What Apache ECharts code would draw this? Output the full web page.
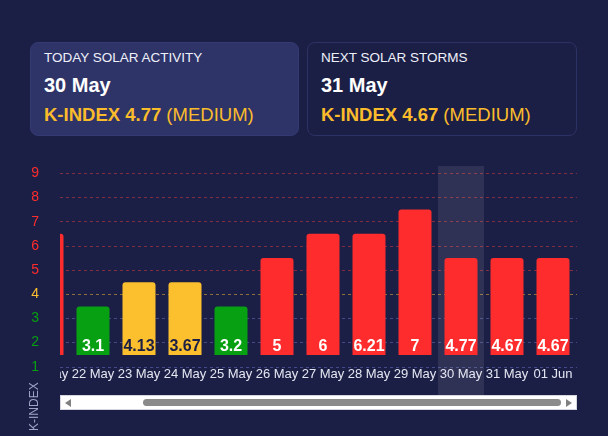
<!DOCTYPE html>
<html>
<head>
<meta charset="utf-8">
<script src="https://cdn.jsdelivr.net/npm/echarts@6/dist/echarts.min.js"></script>
<style>
  body { margin: 0; width: 608px; height: 436px; overflow: hidden; position: relative;
         background: #1c1f45; font-family: "Liberation Sans", Arial, sans-serif; }
  .card { position: absolute; top: 42px; height: 94px; border-radius: 8px; box-sizing: border-box; }
  #today { left: 30px; width: 269px; background: #2e3468; border: 1px solid #343a72; }
  #next { left: 307px; width: 270px; border: 1px solid #2c3264; }
  .card div { position: absolute; left: 13px; white-space: nowrap; line-height: 1; }
  .card .t { top: 7.5px; font-size: 13.5px; color: #eef0fa; }
  .card .d { top: 31.5px; font-size: 20px; font-weight: bold; color: #fff; }
  .card .k { top: 63px; font-size: 18.5px; color: #fbbc2c; }
  .card .k b { font-weight: bold; }
  #yaxis { position: absolute; left: 0; top: 150px; width: 608px; height: 286px; }
  #clip { position: absolute; left: 60px; top: 150px; width: 517px; height: 286px; overflow: hidden; }
  #main { position: absolute; left: -60px; top: 0; width: 608px; height: 286px; }
  /* fake horizontal scrollbar under the scrolled chart */
  #track { position: absolute; left: 60px; top: 395px; width: 517px; height: 15px; box-sizing: border-box;
           background: #fff; border: 1px solid #d6d6de; }
  #thumb { position: absolute; left: 82px; top: 3px; width: 418px; height: 7px; border-radius: 4px; background: #8b8b8b; }
  .arr { position: absolute; top: 3px; width: 0; height: 0; border-top: 4px solid transparent; border-bottom: 4px solid transparent; }
  #al { left: 4px; border-right: 6px solid #808080; }
  #ar { right: 4px; border-left: 6px solid #808080; }
</style>
</head>
<body>
<div class="card" id="today">
  <div class="t">TODAY SOLAR ACTIVITY</div>
  <div class="d">30 May</div>
  <div class="k"><b>K-INDEX 4.77</b> (MEDIUM)</div>
</div>
<div class="card" id="next">
  <div class="t">NEXT SOLAR STORMS</div>
  <div class="d">31 May</div>
  <div class="k"><b>K-INDEX 4.67</b> (MEDIUM)</div>
</div>
<div id="yaxis"></div>
<div id="clip"><div id="main"></div></div>
<div id="track"><div class="arr" id="al"></div><div id="thumb"></div><div class="arr" id="ar"></div></div>
<script>
// days shown (21 May is mostly scrolled out on the left)
var days = ['21 May', '22 May', '23 May', '24 May', '25 May', '26 May', '27 May', '28 May', '29 May', '30 May', '31 May', '01 Jun'];
// K-index printed on each bar
var kIndex = [6, 3.1, 4.13, 3.67, 3.2, 5, 6, 6.21, 7, 4.77, 4.67, 4.67];
// top of each bar, read on the 1..9 scale
var barTop = [6.5, 3.5, 4.5, 4.5, 3.5, 5.5, 6.5, 6.5, 7.5, 5.5, 5.5, 5.5];
var yTicks = [1, 2, 3, 4, 5, 6, 7, 8, 9];
var today = 9; // index of 30 May

var BASE = 1.5; // bars start half a step above "1"
var RED = '#fe2c2c', YELLOW = '#fcbf2e', GREEN = '#06a012';

function levelColor(v) {
  if (v >= 5) return RED;
  if (v >= 4) return YELLOW;
  return GREEN;
}

// left chart: y labels, grid lines, axis name
var yChart = echarts.init(document.getElementById('yaxis'));
yChart.setOption({
  animation: false,
  grid: { left: 60, right: 31, top: 16, bottom: 45 },
  xAxis: { type: 'value', show: false, min: 0, max: 1 },
  yAxis: {
    type: 'value', min: 0, max: 9.3, interval: 1,
    axisLine: { show: false }, axisTick: { show: false },
    axisLabel: {
      margin: 21, fontSize: 14, showMaxLabel: false,
      fontFamily: 'Liberation Sans',
      formatter: function (v) { return yTicks.indexOf(v) >= 0 ? String(v) : ''; },
      color: function (v) { return levelColor(Number(v)); }
    },
    splitLine: {
      showMinLine: false, showMaxLine: false,
      lineStyle: {
        type: [3, 3], width: 1,
        color: yTicks.map(function (v) {
          if (v >= 5) return 'rgba(255,60,60,0.45)';
          if (v >= 4) return 'rgba(252,191,46,0.5)';
          return 'rgba(100,110,190,0.55)';
        })
      }
    }
  },
  graphic: [{
    type: 'text', x: 35, y: 281, rotation: Math.PI / 2,
    style: { text: 'K-INDEX', fill: '#9fa3c6', fontSize: 12, fontFamily: 'Liberation Sans', align: 'left', verticalAlign: 'middle' }
  }],
  series: [{ type: 'bar', data: [] }]
});

// bars, scrolled so that the right end is visible
var chart = echarts.init(document.getElementById('main'));
chart.setOption({
  animation: false,
  grid: { left: 24, right: 32, top: 16, bottom: 33 },
  xAxis: {
    type: 'category', data: days, position: 'bottom', offset: -48,
    axisLine: { show: false, onZero: false }, axisTick: { show: false },
    axisLabel: { color: '#e4e6f2', fontSize: 13, margin: 13, interval: 0, fontFamily: 'Liberation Sans' },
    axisPointer: {
      show: true, type: 'shadow', value: today, status: 'show', z: 1,
      label: { show: false }, triggerTooltip: false,
      shadowStyle: { color: 'rgba(255,255,255,0.085)' }
    }
  },
  yAxis: { type: 'value', min: -1.98, max: 7.79, show: false },
  series: [{
    type: 'bar', barWidth: 33, z: 5,
    itemStyle: { borderRadius: [3, 3, 0, 0] },
    label: {
      show: true, position: 'insideBottom', distance: 0,
      fontSize: 16, fontWeight: 'bold', fontFamily: 'Liberation Sans',
      formatter: function (p) { return String(kIndex[p.dataIndex]); }
    },
    data: barTop.map(function (t) {
      var c = levelColor(t);
      return {
        value: t - BASE,
        itemStyle: { color: c },
        label: { color: c === YELLOW ? '#1c1f45' : '#ffffff' }
      };
    })
  }]
});
</script>
</body>
</html>
